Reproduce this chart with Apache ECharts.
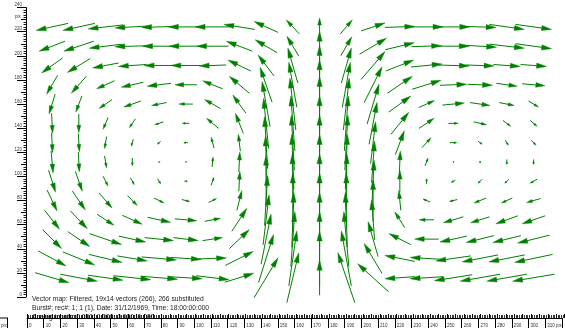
<!DOCTYPE html>
<html><head><meta charset="utf-8">
<script src="https://cdn.jsdelivr.net/npm/echarts@6/dist/echarts.min.js"></script>
<style>html,body{margin:0;padding:0;background:#fff}#c{width:565px;height:331px}</style>
</head><body><div id="c"></div>
<script>
// grid positions (pix)
const X_POS = [15,31,47,63,79,95,111,127,143,159,175,191,207,223,239,255,271,287,303];
const Y_POS = [224,208,192,176,160,144,128,112,96,80,64,48,32,16]; // top row first
// horizontal component, rows top -> bottom
const U = [
 [-32,-32,-35,-35,-35,-35,-35,-31,-24,-13,0,12,24,30,33,33,32,35,36],
 [-26,-30,-33,-35,-33,-34,-32,-26,-22,-12,0,11,27,29,30,32,33,35,36],
 [-21,-23,-26,-28,-30,-30,-27,-23,-16,-10,0,10,24,28,31,32,28,27,26],
 [-11,-15,-18,-22,-24,-22,-20,-20,-12,-8,0,8,18,25,29,27,25,21,23],
 [-6,-6,-13,-17,-15,-14,-16,-13,-8,-6,0,6,12,22,16,22,20,15,10],
 [1,0,-5,-6,-9,-7,-12,-8,-5,-4,0,4,8,18,15,10,13,8,7],
 [1,1,-2,-2,-3,-4,-3,-2,-3,-3,0,3,5,9,9,7,4,3,5],
 [2,1,2,0,1,1,1,1,-1,-2,0,2,3,1,3,1,0,0,0],
 [7,7,5,4,3,3,3,1,0,-1,0,1,2,0,0,-4,-4,-4,-7],
 [10,13,13,10,10,8,8,5,3,0,0,0,0,-2,-7,-8,-12,-11,-14],
 [15,17,17,20,23,22,16,15,6,2,0,-2,-3,-10,-15,-20,-19,-22,-23],
 [19,22,32,27,29,25,20,20,10,4,0,-5,-10,-22,-24,-27,-28,-28,-32],
 [28,32,33,30,35,31,28,28,15,8,0,-10,-18,-30,-33,-35,-36,-36,-38],
 [34,37,35,37,37,33,33,29,24,12,0,-17,-31,-30,-33,-38,-40,-40,-42]
];
// vertical component (up positive), rows top -> bottom
const V = [
 [-7,-7,-4,-2,-1,0,0,5,11,14,18,14,8,1,0,0,-1,-5,-5],
 [-10,-10,-4,-1,0,0,0,10,13,20,30,19,16,7,1,0,-2,-4,-5],
 [-15,-14,-5,-2,0,0,-1,11,21,35,40,35,28,11,3,-1,-1,-2,-2],
 [-19,-17,-8,-5,-3,0,8,17,35,45,50,45,36,17,9,1,-1,-3,-2],
 [-20,-16,-9,-6,-3,0,9,18,45,52,55,52,40,16,7,2,-3,-3,-6],
 [-20,-19,-12,-9,-3,0,10,20,50,55,55,55,42,22,10,0,-3,-6,-6],
 [-20,-18,-12,-7,-3,0,11,17,52,55,55,55,42,24,10,0,-3,-5,-5],
 [-22,-20,-12,-8,-1,0,10,20,52,55,55,55,42,22,8,0,-2,-5,-5],
 [-22,-20,-10,-7,-5,0,8,20,52,55,55,55,42,22,5,-2,-4,-4,-4],
 [-21,-19,-15,-10,-5,-2,4,20,50,55,55,55,42,20,3,-2,-5,-5,-4],
 [-19,-18,-11,-9,-5,-2,3,23,50,55,55,55,40,16,0,-6,-6,-8,-8],
 [-19,-15,-11,-6,-3,-3,3,19,50,55,55,55,35,11,0,-6,-7,-7,-8],
 [-15,-13,-8,-5,-3,-2,1,14,48,55,55,55,30,6,2,-5,-7,-7,-8],
 [-10,-7,-5,-4,-3,-2,-4,9,40,50,35,50,28,-2,-2,-6,-7,-7,-7]
];
const X_MAX = 320, Y_MAX = 240;
const X_TICK_STEPS = [10, 1, 5];   // labelled ruler, fine ruler, half ruler
const Y_TICK_STEPS = [20, 2, 10];

const data = [];
for (let r = 0; r < Y_POS.length; r++)
  for (let c = 0; c < X_POS.length; c++)
    data.push([X_POS[c], Y_POS[r], U[r][c], V[r][c]]);

const GREEN = '#008000';
const SCALE = 1;
function renderArrow(params, api) {
  const c = api.coord([api.value(0), api.value(1)]);
  const dx = api.value(2) * SCALE, dy = -api.value(3) * SCALE;
  const L = Math.hypot(dx, dy);
  if (L < 0.8) {
    return {type:'circle', shape:{cx:c[0], cy:c[1], r:0.6}, style:{fill:GREEN}};
  }
  const x0 = c[0] - dx/2, y0 = c[1] - dy/2, x1 = c[0] + dx/2, y1 = c[1] + dy/2;
  const ux = dx/L, uy = dy/L;
  const hl = Math.min(10, L*0.4), hw = Math.max(1, hl*0.26);
  const bx = x1 - ux*hl, by = y1 - uy*hl;
  return {type:'group', children:[
    {type:'line', shape:{x1:x0, y1:y0, x2:x1 - ux*hl*0.5, y2:y1 - uy*hl*0.5}, style:{stroke:GREEN, lineWidth:1}},
    {type:'polygon', shape:{points:[[x1,y1],[bx - uy*hw, by + ux*hw],[bx + uy*hw, by - ux*hw]]}, style:{fill:GREEN, stroke:GREEN, lineWidth:0.4}}
  ]};
}

const FONT = 'Liberation Sans, Arial, sans-serif';
const GRID = {left:27, right:0.4, top:7.6, bottom:34};
const grids = [GRID, GRID, GRID].map(g => Object.assign({}, g));

const xAxes = X_TICK_STEPS.map((step, k) => ({
  type:'value', gridIndex:k, min:0, max:X_MAX, interval:step, position:'bottom', offset:21,
  axisLine:{show:k === 0, onZero:false, lineStyle:{color:'#000', width:1}},
  axisTick:{show:true, inside:k !== 0, length:k === 0 ? 10 : (k === 1 ? 3 : 4), lineStyle:{color:'#000', width:k === 1 ? 0.8 : 1}},
  axisLabel:k === 0 ? {show:true, interval:0, fontSize:4.5, color:'#333', align:'left', margin:5, padding:[0,0,0,2], fontFamily:FONT,
       formatter:v => v === 310 ? '310 pix' : (v >= 320 ? '' : String(v))} : {show:false},
  splitLine:{show:false}
}));
const yAxes = Y_TICK_STEPS.map((step, k) => ({
  type:'value', gridIndex:k, min:0, max:Y_MAX, interval:step, position:'left', offset:1,
  axisLine:{show:k === 0, onZero:false, lineStyle:{color:'#000', width:1}},
  axisTick:{show:true, length:k === 0 ? 9 : (k === 1 ? 2.5 : 5), lineStyle:{color:'#000', width:k === 1 ? 0.9 : 1}},
  axisLabel:k === 0 ? {show:true, fontSize:4.5, color:'#333', margin:4, verticalAlign:'bottom', fontFamily:FONT} : {show:false},
  splitLine:{show:false}
}));

const chart = echarts.init(document.getElementById('c'), null, {renderer:'canvas'});
chart.setOption({
  animation:false,
  backgroundColor:'#fff',
  grid:grids,
  xAxis:xAxes,
  yAxis:yAxes,
  series:[{
    type:'custom', xAxisIndex:0, yAxisIndex:0, renderItem:renderArrow, data:data, clip:false, silent:true
  }],
  graphic:[
    {type:'text', left:15, top:14, style:{text:'pix', fontSize:4.5, fill:'#333', fontFamily:FONT}},
    {type:'text', left:32, top:295.5, style:{text:'Vector map: Filtered, 19x14 vectors (266), 266 substituted', fontSize:6.7, fill:'#222', fontFamily:FONT}},
    {type:'text', left:32, top:304.5, style:{text:'Burst#; rec#: 1; 1 (1), Date: 31/12/1969, Time: 18:00:00:000', fontSize:6.7, fill:'#222', fontFamily:FONT}},
    {type:'text', left:32, top:313.5, style:{text:'Analog inputs: 0.000; 0.000; 0.000; 0.000', fontSize:6.7, fill:'#222', fontFamily:FONT}},
    {type:'line', shape:{x1:0, y1:318, x2:8, y2:318}, style:{stroke:'#000', lineWidth:1}},
    {type:'line', shape:{x1:7.5, y1:318, x2:7.5, y2:328}, style:{stroke:'#000', lineWidth:1}},
    {type:'text', left:1, top:323, style:{text:'pix', fontSize:4.5, fill:'#333', fontFamily:FONT}}
  ]
});
</script></body></html>
